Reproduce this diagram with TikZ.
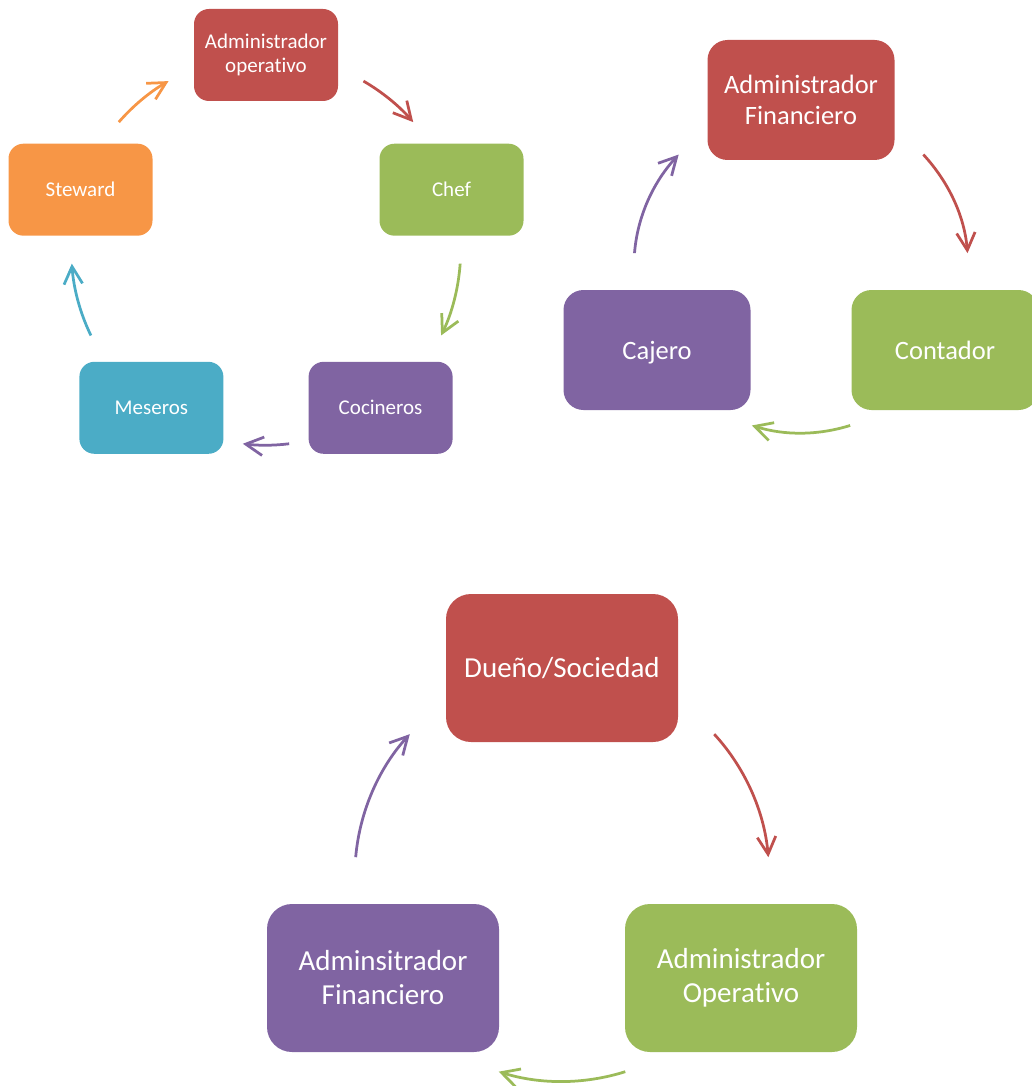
\documentclass[tikz,border=0pt]{standalone}
\usepackage{fontspec}
\setmainfont{Carlito}[Ligatures=NoCommon]
\usetikzlibrary{arrows.meta}
\definecolor{sred}{HTML}{C0504D}
\definecolor{sgreen}{HTML}{9BBB59}
\definecolor{spurple}{HTML}{8064A2}
\definecolor{sblue}{HTML}{4BACC6}
\definecolor{sorange}{HTML}{F79646}

\begin{document}
\begin{tikzpicture}[x=1pt,y=1pt,
  box/.style={rectangle,text=white,align=center,inner sep=0pt,outer sep=0pt},
  boxa/.style={box,minimum width=144pt,minimum height=92pt,rounded corners=15pt,font=\fontsize{21}{24}\selectfont},
  boxb/.style={box,minimum width=187pt,minimum height=120pt,rounded corners=20pt,font=\fontsize{26.5}{31}\selectfont},
  boxc/.style={box,minimum width=232pt,minimum height=148pt,rounded corners=25pt,font=\fontsize{29}{34}\selectfont}]
\useasboundingbox (0,0) rectangle (1032,-1086);
% cycle of the kitchen
\node[boxa,fill=sred] (A) at (266,-55) {Administrador\\operativo};
\node[boxa,fill=sgreen] (B) at (451.5,-189.7) {Chef};
\node[boxa,fill=spurple] (C) at (380.6,-407.8) {Cocineros};
\node[boxa,fill=sblue] (D) at (151.4,-407.8) {Meseros};
\node[boxa,fill=sorange] (E) at (80.5,-189.7) {Steward};
% cycle of the money
\node[boxb,fill=sred] (F) at (801,-100) {Administrador\\Financiero};
\node[boxb,fill=sgreen] (G) at (945,-350) {Contador};
\node[boxb,fill=spurple,text depth=0pt] (H) at (657,-350) {Cajero};
% cycle of the owners
\node[boxc,fill=sred] (I) at (562,-668) {Dueño/Sociedad};
\node[boxc,fill=sgreen] (J) at (741,-978) {Administrador\\Operativo};
\node[boxc,fill=spurple] (K) at (383,-978) {Adminsitrador\\Financiero};
\path[->,line width=2.75pt,>={Straight Barb[length=17.5pt,width=18.5pt]}]
(E.67) edge[sorange,out=49,in=210,out distance=50pt,in distance=51pt,shorten <=28.6pt,shorten >=29.4pt] (A.189)
(A.351) edge[sred,out=330,in=131,out distance=51pt,in distance=50pt,shorten <=29.4pt,shorten >=28.6pt] (B.113)
(B.283) edge[sgreen,out=266,in=64,out distance=53pt,in distance=54pt,shorten <=28pt,shorten >=29.3pt] (C.44)
(C.205) edge[spurple,out=187,in=353,out distance=35pt,in distance=35pt,shorten <=19.6pt,shorten >=19.6pt] (D.335)
(D.136) edge[sblue,out=116,in=274,out distance=54pt,in distance=53pt,shorten <=29.3pt,shorten >=28pt] (E.257)
(H.113) edge[spurple,out=85.4,in=227.3,out distance=74pt,in distance=80pt,shorten <=37pt,shorten >=42.5pt] (F.194)
(F.346) edge[sred,out=312.7,in=94.6,out distance=80pt,in distance=74pt,shorten <=42.5pt,shorten >=37pt] (G.67)
(G.233) edge[sgreen,out=197.3,in=342.7,out distance=86pt,in distance=86pt,shorten <=52pt,shorten >=52pt] (H.307)
(K.113) edge[spurple,out=85,in=227.4,out distance=93pt,in distance=99pt,shorten <=47pt,shorten >=53.5pt] (I.193)
(I.347) edge[sred,out=312.6,in=95,out distance=99pt,in distance=93pt,shorten <=53.5pt,shorten >=47pt] (J.67)
(J.234) edge[sgreen,out=197.6,in=342.4,out distance=108pt,in distance=108pt,shorten <=65pt,shorten >=65pt] (K.306);
\end{tikzpicture}
\end{document}
